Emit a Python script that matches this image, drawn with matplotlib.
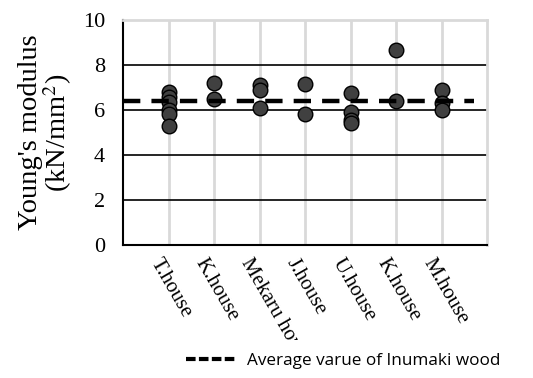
import numpy as np
import matplotlib.pyplot as plt
from matplotlib.lines import Line2D
from matplotlib.transforms import Bbox

# houses on the x axis
houses = ["T.house", "K.house", "Mekaru house", "J.house", "U.house", "K.house", "M.house"]

# Young's modulus values (kN/mm2)
t_house = [6.8, 6.6, 6.35, 6.0, 5.8, 5.3]
k_house = [7.2, 6.5]
mekaru_house = [7.1, 6.9, 6.1]
j_house = [7.15, 5.8]
u_house = [6.75, 5.9, 5.55, 5.4]
k_house2 = [8.65, 6.4]
m_house = [6.9, 6.3, 6.0]

avg_inumaki = 6.42

groups = [t_house, k_house, mekaru_house, j_house, u_house, k_house2, m_house]

plt.rcParams['font.family'] = ['Liberation Serif', 'DejaVu Serif']
plt.rcParams['mathtext.fontset'] = 'stix'

fig = plt.figure(figsize=(5.33, 3.78), dpi=100)
ax = fig.add_axes([0.231, 0.352, 0.683, 0.595])

for i, vals in enumerate(groups):
    ax.plot([i + 1] * len(vals), vals, "o", ms=10.5, mfc="#404040", mec="black", mew=1.0,
            zorder=4, clip_on=False)

ax.plot([0, 7.7], [avg_inumaki, avg_inumaki], color="black", lw=3.2, ls=(0, (3.9, 2.5)), zorder=5)

ax.set_xlim(0, 8)
ax.set_ylim(0, 10)
ax.set_yticks([0, 2, 4, 6, 8, 10])
ax.set_xticks(range(1, 8))
ax.set_xticklabels([])

# gridlines
for y in [2, 4, 6, 8]:
    ax.axhline(y, color="black", lw=1.2, zorder=1)
for x in range(1, 8):
    ax.axvline(x, color="#d9d9d9", lw=2, zorder=0)

ax.spines["top"].set_color("#d9d9d9")
ax.spines["right"].set_color("#d9d9d9")
ax.spines["top"].set_linewidth(2)
ax.spines["right"].set_linewidth(2)
ax.spines["left"].set_linewidth(1.5)
ax.spines["bottom"].set_linewidth(1.5)

ax.tick_params(axis="both", length=0)
ax.tick_params(axis="y", labelsize=16, pad=13)

# category labels, cut off at the bottom of the label area like the original
label_box = Bbox.from_extents(0, 378 - 340, 533, 378 - 246)
for i, name in enumerate(houses):
    t = ax.text(i + 1 - 0.14, -0.45, name, rotation=-60, rotation_mode="anchor",
                ha="left", va="top", fontsize=15, transform=ax.transData)
    t.set_clip_on(True)
    t.set_clip_box(label_box)

ax.set_ylabel("Young's modulus\n(kN/mm$^2$)", fontsize=20.5, linespacing=0.95, labelpad=6)

handle = Line2D([], [], color="black", lw=3.0, ls=(0, (2.3, 0.8)))
fig.legend([handle], ["Average varue of Inumaki wood"], loc="center left",
           bbox_to_anchor=(0.32, 0.045), frameon=False, handlelength=3.0, handletextpad=0.6,
           prop={"family": "Open Sans", "size": 12.3})

fig.savefig("out.png", dpi=100)
